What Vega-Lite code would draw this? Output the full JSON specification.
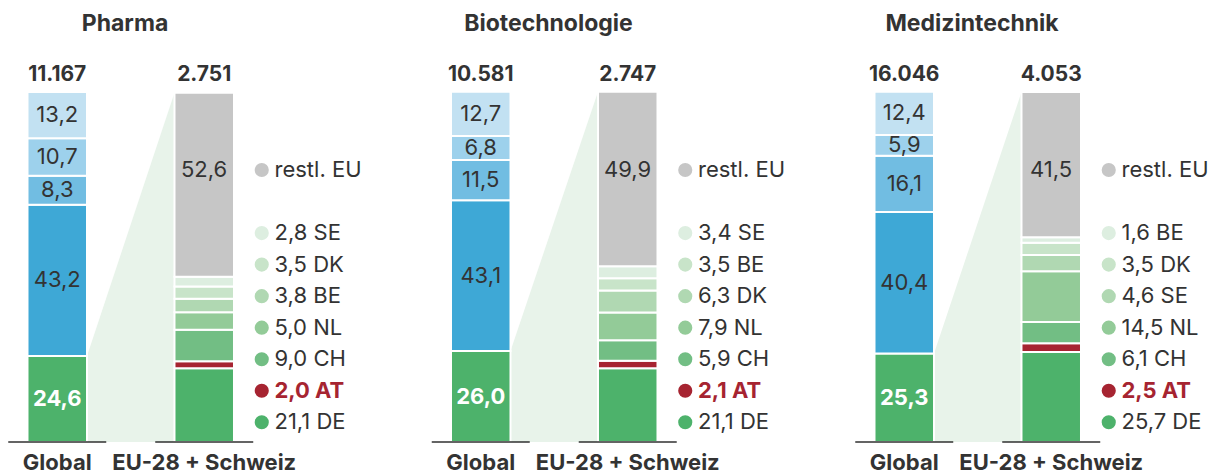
{
  "$schema": "https://vega.github.io/schema/vega-lite/v6.json",
  "padding": {"top": 13, "left": 0, "right": 0, "bottom": 0},
  "bounds": "flush",
  "spacing": 173.5,
  "config": {
    "view": {"stroke": null},
    "font": "Inter",
    "title": {"fontSize": 23, "fontWeight": "bold", "color": "#333333", "anchor": "middle", "frame": "group", "baseline": "alphabetic", "offset": 28}
  },
  "datasets": {
    "seg": [
      {"s": "Pharma", "b": "Global", "i": 0, "k": "EU-28 + Schweiz", "v": 24.6},
      {"s": "Pharma", "b": "Global", "i": 1, "k": "", "v": 43.2},
      {"s": "Pharma", "b": "Global", "i": 2, "k": "", "v": 8.3},
      {"s": "Pharma", "b": "Global", "i": 3, "k": "", "v": 10.7},
      {"s": "Pharma", "b": "Global", "i": 4, "k": "", "v": 13.2},
      {"s": "Pharma", "b": "EU-28 + Schweiz", "i": 0, "k": "DE", "v": 21.1},
      {"s": "Pharma", "b": "EU-28 + Schweiz", "i": 1, "k": "AT", "v": 2.0},
      {"s": "Pharma", "b": "EU-28 + Schweiz", "i": 2, "k": "CH", "v": 9.0},
      {"s": "Pharma", "b": "EU-28 + Schweiz", "i": 3, "k": "NL", "v": 5.0},
      {"s": "Pharma", "b": "EU-28 + Schweiz", "i": 4, "k": "BE", "v": 3.8},
      {"s": "Pharma", "b": "EU-28 + Schweiz", "i": 5, "k": "DK", "v": 3.5},
      {"s": "Pharma", "b": "EU-28 + Schweiz", "i": 6, "k": "SE", "v": 2.8},
      {"s": "Pharma", "b": "EU-28 + Schweiz", "i": 7, "k": "restl. EU", "v": 52.6},
      {"s": "Biotechnologie", "b": "Global", "i": 0, "k": "EU-28 + Schweiz", "v": 26.0},
      {"s": "Biotechnologie", "b": "Global", "i": 1, "k": "", "v": 43.1},
      {"s": "Biotechnologie", "b": "Global", "i": 2, "k": "", "v": 11.5},
      {"s": "Biotechnologie", "b": "Global", "i": 3, "k": "", "v": 6.8},
      {"s": "Biotechnologie", "b": "Global", "i": 4, "k": "", "v": 12.7},
      {"s": "Biotechnologie", "b": "EU-28 + Schweiz", "i": 0, "k": "DE", "v": 21.1},
      {"s": "Biotechnologie", "b": "EU-28 + Schweiz", "i": 1, "k": "AT", "v": 2.1},
      {"s": "Biotechnologie", "b": "EU-28 + Schweiz", "i": 2, "k": "CH", "v": 5.9},
      {"s": "Biotechnologie", "b": "EU-28 + Schweiz", "i": 3, "k": "NL", "v": 7.9},
      {"s": "Biotechnologie", "b": "EU-28 + Schweiz", "i": 4, "k": "DK", "v": 6.3},
      {"s": "Biotechnologie", "b": "EU-28 + Schweiz", "i": 5, "k": "BE", "v": 3.5},
      {"s": "Biotechnologie", "b": "EU-28 + Schweiz", "i": 6, "k": "SE", "v": 3.4},
      {"s": "Biotechnologie", "b": "EU-28 + Schweiz", "i": 7, "k": "restl. EU", "v": 49.9},
      {"s": "Medizintechnik", "b": "Global", "i": 0, "k": "EU-28 + Schweiz", "v": 25.3},
      {"s": "Medizintechnik", "b": "Global", "i": 1, "k": "", "v": 40.4},
      {"s": "Medizintechnik", "b": "Global", "i": 2, "k": "", "v": 16.1},
      {"s": "Medizintechnik", "b": "Global", "i": 3, "k": "", "v": 5.9},
      {"s": "Medizintechnik", "b": "Global", "i": 4, "k": "", "v": 12.4},
      {"s": "Medizintechnik", "b": "EU-28 + Schweiz", "i": 0, "k": "DE", "v": 25.7},
      {"s": "Medizintechnik", "b": "EU-28 + Schweiz", "i": 1, "k": "AT", "v": 2.5},
      {"s": "Medizintechnik", "b": "EU-28 + Schweiz", "i": 2, "k": "CH", "v": 6.1},
      {"s": "Medizintechnik", "b": "EU-28 + Schweiz", "i": 3, "k": "NL", "v": 14.5},
      {"s": "Medizintechnik", "b": "EU-28 + Schweiz", "i": 4, "k": "SE", "v": 4.6},
      {"s": "Medizintechnik", "b": "EU-28 + Schweiz", "i": 5, "k": "DK", "v": 3.5},
      {"s": "Medizintechnik", "b": "EU-28 + Schweiz", "i": 6, "k": "BE", "v": 1.6},
      {"s": "Medizintechnik", "b": "EU-28 + Schweiz", "i": 7, "k": "restl. EU", "v": 41.5}
    ],
    "tot": [
      {"s": "Pharma", "b": "Global", "n": 11167},
      {"s": "Pharma", "b": "EU-28 + Schweiz", "n": 2751},
      {"s": "Biotechnologie", "b": "Global", "n": 10581},
      {"s": "Biotechnologie", "b": "EU-28 + Schweiz", "n": 2747},
      {"s": "Medizintechnik", "b": "Global", "n": 16046},
      {"s": "Medizintechnik", "b": "EU-28 + Schweiz", "n": 4053}
    ]
  },
  "hconcat": [
    {
      "title": {"text": "Pharma"},
      "width": 250, "height": 350,
      "resolve": {"scale": {"x": "independent", "y": "independent"}},
      "layer": [
        {
          "data": {"name": "seg"},
          "transform": [
            {"filter": "datum.s == 'Pharma' && (datum.b != 'Global' || datum.i == 0)"},
            {"aggregate": [{"op": "sum", "field": "v", "as": "top"}], "groupby": ["b"]}
          ],
          "mark": {"type": "area", "color": "#e8f3ea", "opacity": 1, "interpolate": "linear"},
          "encoding": {
            "x": {"field": "b", "type": "ordinal", "scale": {"type": "point", "domain": ["Global", "EU-28 + Schweiz"], "padding": 0.9286, "align": 0.5354}, "axis": null},
            "y": {"field": "top", "type": "quantitative", "scale": {"domain": [0, 100]}, "axis": null}
          }
        },
        {
          "layer": [
            {
              "data": {"name": "seg"},
              "transform": [
                {"filter": "datum.s == 'Pharma'"},
                {"stack": "v", "groupby": ["b"], "sort": [{"field": "i", "order": "ascending"}], "as": ["y0", "y1"]},
                {"calculate": "(datum.b == 'Global' ? 'G' : 'E') + datum.i", "as": "c"},
                {"calculate": "replace(format(datum.v, '.1f'), '.', ',')", "as": "t"},
                {"calculate": "(datum.y0 + datum.y1) / 2", "as": "ym"}
              ],
              "layer": [
                {
                  "mark": {"type": "bar", "stroke": "white", "strokeWidth": 2},
                  "encoding": {
                    "x": {"field": "b", "type": "nominal", "title": null, "scale": {"domain": ["Global", "EU-28 + Schweiz"], "paddingInner": 0.5952, "paddingOuter": 0.148, "align": 0.632, "round": false}, "axis": {"domain": false, "ticks": false, "grid": false, "labelFontSize": 22, "labelFontWeight": "bold", "labelColor": "#333333", "labelPadding": 10, "labelAngle": 0, "labelOverlap": false, "labelLimit": 400}},
                    "y": {"field": "y1", "type": "quantitative", "scale": {"domain": [0, 100]}, "axis": null},
                    "y2": {"field": "y0"},
                    "color": {"field": "c", "type": "nominal", "legend": null, "scale": {"domain": ["G0", "G1", "G2", "G3", "G4", "E0", "E1", "E2", "E3", "E4", "E5", "E6", "E7"], "range": ["#4db26b", "#3ea8d6", "#71bde2", "#9dd1ec", "#c2e1f2", "#4db26b", "#a62431", "#72be84", "#93cb98", "#b0d8b2", "#c8e4c9", "#ddeee0", "#c6c6c6"]}}
                  }
                },
                {
                  "transform": [{"filter": "datum.b == 'Global' && datum.i > 0"}],
                  "mark": {"type": "text", "fontSize": 22, "color": "#333333", "baseline": "middle"},
                  "encoding": {
                    "x": {"field": "b", "type": "nominal", "title": null},
                    "y": {"field": "ym", "type": "quantitative"},
                    "text": {"field": "t"}
                  }
                },
                {
                  "transform": [{"filter": "datum.b == 'Global' && datum.i == 0"}],
                  "mark": {"type": "text", "fontSize": 22, "fontWeight": "bold", "color": "white", "baseline": "middle"},
                  "encoding": {
                    "x": {"field": "b", "type": "nominal", "title": null},
                    "y": {"field": "ym", "type": "quantitative"},
                    "text": {"field": "t"}
                  }
                }
              ]
            },
            {
              "data": {"name": "tot"},
              "transform": [
                {"filter": "datum.s == 'Pharma'"},
                {"calculate": "replace(format(datum.n, ','), ',', '.')", "as": "nt"}
              ],
              "layer": [
                {
                  "mark": {"type": "text", "fontSize": 21, "fontWeight": "bold", "color": "#333333", "baseline": "alphabetic", "dy": -11},
                  "encoding": {
                    "x": {"field": "b", "type": "nominal", "title": null},
                    "y": {"datum": 100, "type": "quantitative"},
                    "text": {"field": "nt"}
                  }
                },
                {
                  "mark": {"type": "tick", "orient": "horizontal", "size": 98, "thickness": 2, "color": "#222222"},
                  "encoding": {
                    "x": {"field": "b", "type": "nominal", "title": null},
                    "y": {"datum": 0, "type": "quantitative"}
                  }
                }
              ]
            }
          ]
        },
        {
          "data": {"name": "seg"},
          "transform": [
            {"filter": "datum.s == 'Pharma' && datum.b == 'EU-28 + Schweiz'"},
            {"calculate": "'E' + datum.i", "as": "c"},
            {"calculate": "replace(format(datum.v, '.1f'), '.', ',')", "as": "t"},
            {"calculate": "datum.i == 7 ? datum.k : datum.t + ' ' + datum.k", "as": "lt"}
          ],
          "encoding": {
            "x": {"field": "b", "type": "nominal", "title": null, "scale": {"domain": ["Global", "EU-28 + Schweiz"], "paddingInner": 0.5952, "paddingOuter": 0.148, "align": 0.632, "round": false}, "axis": null},
            "y": {"field": "i", "type": "ordinal", "scale": {"type": "point", "domain": [7, -1, 6, 5, 4, 3, 2, 1, 0], "range": [78, 330.3], "padding": 0}, "axis": null}
          },
          "layer": [
            {
              "mark": {"type": "circle", "size": 200, "opacity": 1, "xOffset": 57.75},
              "encoding": {
                "color": {"field": "c", "type": "nominal", "legend": null}
              }
            },
            {
              "transform": [{"filter": "datum.k != 'AT'"}],
              "mark": {"type": "text", "fontSize": 22, "color": "#333333", "align": "left", "baseline": "middle", "xOffset": 70.5},
              "encoding": {"text": {"field": "lt"}}
            },
            {
              "transform": [{"filter": "datum.k == 'AT'"}],
              "mark": {"type": "text", "fontSize": 22, "fontWeight": "bold", "color": "#a62431", "align": "left", "baseline": "middle", "xOffset": 70.5},
              "encoding": {"text": {"field": "lt"}}
            },
            {
              "transform": [{"filter": "datum.i == 7"}],
              "mark": {"type": "text", "fontSize": 22, "color": "#333333", "align": "center", "baseline": "middle"},
              "encoding": {"text": {"field": "t"}}
            }
          ]
        }
      ]
    },
    {
      "title": {"text": "Biotechnologie"},
      "width": 250, "height": 350,
      "resolve": {"scale": {"x": "independent", "y": "independent"}},
      "layer": [
        {
          "data": {"name": "seg"},
          "transform": [
            {"filter": "datum.s == 'Biotechnologie' && (datum.b != 'Global' || datum.i == 0)"},
            {"aggregate": [{"op": "sum", "field": "v", "as": "top"}], "groupby": ["b"]}
          ],
          "mark": {"type": "area", "color": "#e8f3ea", "opacity": 1, "interpolate": "linear"},
          "encoding": {
            "x": {"field": "b", "type": "ordinal", "scale": {"type": "point", "domain": ["Global", "EU-28 + Schweiz"], "padding": 0.9286, "align": 0.5354}, "axis": null},
            "y": {"field": "top", "type": "quantitative", "scale": {"domain": [0, 100]}, "axis": null}
          }
        },
        {
          "layer": [
            {
              "data": {"name": "seg"},
              "transform": [
                {"filter": "datum.s == 'Biotechnologie'"},
                {"stack": "v", "groupby": ["b"], "sort": [{"field": "i", "order": "ascending"}], "as": ["y0", "y1"]},
                {"calculate": "(datum.b == 'Global' ? 'G' : 'E') + datum.i", "as": "c"},
                {"calculate": "replace(format(datum.v, '.1f'), '.', ',')", "as": "t"},
                {"calculate": "(datum.y0 + datum.y1) / 2", "as": "ym"}
              ],
              "layer": [
                {
                  "mark": {"type": "bar", "stroke": "white", "strokeWidth": 2},
                  "encoding": {
                    "x": {"field": "b", "type": "nominal", "title": null, "scale": {"domain": ["Global", "EU-28 + Schweiz"], "paddingInner": 0.5952, "paddingOuter": 0.148, "align": 0.632, "round": false}, "axis": {"domain": false, "ticks": false, "grid": false, "labelFontSize": 22, "labelFontWeight": "bold", "labelColor": "#333333", "labelPadding": 10, "labelAngle": 0, "labelOverlap": false, "labelLimit": 400}},
                    "y": {"field": "y1", "type": "quantitative", "scale": {"domain": [0, 100]}, "axis": null},
                    "y2": {"field": "y0"},
                    "color": {"field": "c", "type": "nominal", "legend": null, "scale": {"domain": ["G0", "G1", "G2", "G3", "G4", "E0", "E1", "E2", "E3", "E4", "E5", "E6", "E7"], "range": ["#4db26b", "#3ea8d6", "#71bde2", "#9dd1ec", "#c2e1f2", "#4db26b", "#a62431", "#72be84", "#93cb98", "#b0d8b2", "#c8e4c9", "#ddeee0", "#c6c6c6"]}}
                  }
                },
                {
                  "transform": [{"filter": "datum.b == 'Global' && datum.i > 0"}],
                  "mark": {"type": "text", "fontSize": 22, "color": "#333333", "baseline": "middle"},
                  "encoding": {
                    "x": {"field": "b", "type": "nominal", "title": null},
                    "y": {"field": "ym", "type": "quantitative"},
                    "text": {"field": "t"}
                  }
                },
                {
                  "transform": [{"filter": "datum.b == 'Global' && datum.i == 0"}],
                  "mark": {"type": "text", "fontSize": 22, "fontWeight": "bold", "color": "white", "baseline": "middle"},
                  "encoding": {
                    "x": {"field": "b", "type": "nominal", "title": null},
                    "y": {"field": "ym", "type": "quantitative"},
                    "text": {"field": "t"}
                  }
                }
              ]
            },
            {
              "data": {"name": "tot"},
              "transform": [
                {"filter": "datum.s == 'Biotechnologie'"},
                {"calculate": "replace(format(datum.n, ','), ',', '.')", "as": "nt"}
              ],
              "layer": [
                {
                  "mark": {"type": "text", "fontSize": 21, "fontWeight": "bold", "color": "#333333", "baseline": "alphabetic", "dy": -11},
                  "encoding": {
                    "x": {"field": "b", "type": "nominal", "title": null},
                    "y": {"datum": 100, "type": "quantitative"},
                    "text": {"field": "nt"}
                  }
                },
                {
                  "mark": {"type": "tick", "orient": "horizontal", "size": 98, "thickness": 2, "color": "#222222"},
                  "encoding": {
                    "x": {"field": "b", "type": "nominal", "title": null},
                    "y": {"datum": 0, "type": "quantitative"}
                  }
                }
              ]
            }
          ]
        },
        {
          "data": {"name": "seg"},
          "transform": [
            {"filter": "datum.s == 'Biotechnologie' && datum.b == 'EU-28 + Schweiz'"},
            {"calculate": "'E' + datum.i", "as": "c"},
            {"calculate": "replace(format(datum.v, '.1f'), '.', ',')", "as": "t"},
            {"calculate": "datum.i == 7 ? datum.k : datum.t + ' ' + datum.k", "as": "lt"}
          ],
          "encoding": {
            "x": {"field": "b", "type": "nominal", "title": null, "scale": {"domain": ["Global", "EU-28 + Schweiz"], "paddingInner": 0.5952, "paddingOuter": 0.148, "align": 0.632, "round": false}, "axis": null},
            "y": {"field": "i", "type": "ordinal", "scale": {"type": "point", "domain": [7, -1, 6, 5, 4, 3, 2, 1, 0], "range": [78, 330.3], "padding": 0}, "axis": null}
          },
          "layer": [
            {
              "mark": {"type": "circle", "size": 200, "opacity": 1, "xOffset": 57.75},
              "encoding": {
                "color": {"field": "c", "type": "nominal", "legend": null}
              }
            },
            {
              "transform": [{"filter": "datum.k != 'AT'"}],
              "mark": {"type": "text", "fontSize": 22, "color": "#333333", "align": "left", "baseline": "middle", "xOffset": 70.5},
              "encoding": {"text": {"field": "lt"}}
            },
            {
              "transform": [{"filter": "datum.k == 'AT'"}],
              "mark": {"type": "text", "fontSize": 22, "fontWeight": "bold", "color": "#a62431", "align": "left", "baseline": "middle", "xOffset": 70.5},
              "encoding": {"text": {"field": "lt"}}
            },
            {
              "transform": [{"filter": "datum.i == 7"}],
              "mark": {"type": "text", "fontSize": 22, "color": "#333333", "align": "center", "baseline": "middle"},
              "encoding": {"text": {"field": "t"}}
            }
          ]
        }
      ]
    },
    {
      "title": {"text": "Medizintechnik"},
      "width": 250, "height": 350,
      "resolve": {"scale": {"x": "independent", "y": "independent"}},
      "layer": [
        {
          "data": {"name": "seg"},
          "transform": [
            {"filter": "datum.s == 'Medizintechnik' && (datum.b != 'Global' || datum.i == 0)"},
            {"aggregate": [{"op": "sum", "field": "v", "as": "top"}], "groupby": ["b"]}
          ],
          "mark": {"type": "area", "color": "#e8f3ea", "opacity": 1, "interpolate": "linear"},
          "encoding": {
            "x": {"field": "b", "type": "ordinal", "scale": {"type": "point", "domain": ["Global", "EU-28 + Schweiz"], "padding": 0.9286, "align": 0.5354}, "axis": null},
            "y": {"field": "top", "type": "quantitative", "scale": {"domain": [0, 100]}, "axis": null}
          }
        },
        {
          "layer": [
            {
              "data": {"name": "seg"},
              "transform": [
                {"filter": "datum.s == 'Medizintechnik'"},
                {"stack": "v", "groupby": ["b"], "sort": [{"field": "i", "order": "ascending"}], "as": ["y0", "y1"]},
                {"calculate": "(datum.b == 'Global' ? 'G' : 'E') + datum.i", "as": "c"},
                {"calculate": "replace(format(datum.v, '.1f'), '.', ',')", "as": "t"},
                {"calculate": "(datum.y0 + datum.y1) / 2", "as": "ym"}
              ],
              "layer": [
                {
                  "mark": {"type": "bar", "stroke": "white", "strokeWidth": 2},
                  "encoding": {
                    "x": {"field": "b", "type": "nominal", "title": null, "scale": {"domain": ["Global", "EU-28 + Schweiz"], "paddingInner": 0.5952, "paddingOuter": 0.148, "align": 0.632, "round": false}, "axis": {"domain": false, "ticks": false, "grid": false, "labelFontSize": 22, "labelFontWeight": "bold", "labelColor": "#333333", "labelPadding": 10, "labelAngle": 0, "labelOverlap": false, "labelLimit": 400}},
                    "y": {"field": "y1", "type": "quantitative", "scale": {"domain": [0, 100]}, "axis": null},
                    "y2": {"field": "y0"},
                    "color": {"field": "c", "type": "nominal", "legend": null, "scale": {"domain": ["G0", "G1", "G2", "G3", "G4", "E0", "E1", "E2", "E3", "E4", "E5", "E6", "E7"], "range": ["#4db26b", "#3ea8d6", "#71bde2", "#9dd1ec", "#c2e1f2", "#4db26b", "#a62431", "#72be84", "#93cb98", "#b0d8b2", "#c8e4c9", "#ddeee0", "#c6c6c6"]}}
                  }
                },
                {
                  "transform": [{"filter": "datum.b == 'Global' && datum.i > 0"}],
                  "mark": {"type": "text", "fontSize": 22, "color": "#333333", "baseline": "middle"},
                  "encoding": {
                    "x": {"field": "b", "type": "nominal", "title": null},
                    "y": {"field": "ym", "type": "quantitative"},
                    "text": {"field": "t"}
                  }
                },
                {
                  "transform": [{"filter": "datum.b == 'Global' && datum.i == 0"}],
                  "mark": {"type": "text", "fontSize": 22, "fontWeight": "bold", "color": "white", "baseline": "middle"},
                  "encoding": {
                    "x": {"field": "b", "type": "nominal", "title": null},
                    "y": {"field": "ym", "type": "quantitative"},
                    "text": {"field": "t"}
                  }
                }
              ]
            },
            {
              "data": {"name": "tot"},
              "transform": [
                {"filter": "datum.s == 'Medizintechnik'"},
                {"calculate": "replace(format(datum.n, ','), ',', '.')", "as": "nt"}
              ],
              "layer": [
                {
                  "mark": {"type": "text", "fontSize": 21, "fontWeight": "bold", "color": "#333333", "baseline": "alphabetic", "dy": -11},
                  "encoding": {
                    "x": {"field": "b", "type": "nominal", "title": null},
                    "y": {"datum": 100, "type": "quantitative"},
                    "text": {"field": "nt"}
                  }
                },
                {
                  "mark": {"type": "tick", "orient": "horizontal", "size": 98, "thickness": 2, "color": "#222222"},
                  "encoding": {
                    "x": {"field": "b", "type": "nominal", "title": null},
                    "y": {"datum": 0, "type": "quantitative"}
                  }
                }
              ]
            }
          ]
        },
        {
          "data": {"name": "seg"},
          "transform": [
            {"filter": "datum.s == 'Medizintechnik' && datum.b == 'EU-28 + Schweiz'"},
            {"calculate": "'E' + datum.i", "as": "c"},
            {"calculate": "replace(format(datum.v, '.1f'), '.', ',')", "as": "t"},
            {"calculate": "datum.i == 7 ? datum.k : datum.t + ' ' + datum.k", "as": "lt"}
          ],
          "encoding": {
            "x": {"field": "b", "type": "nominal", "title": null, "scale": {"domain": ["Global", "EU-28 + Schweiz"], "paddingInner": 0.5952, "paddingOuter": 0.148, "align": 0.632, "round": false}, "axis": null},
            "y": {"field": "i", "type": "ordinal", "scale": {"type": "point", "domain": [7, -1, 6, 5, 4, 3, 2, 1, 0], "range": [78, 330.3], "padding": 0}, "axis": null}
          },
          "layer": [
            {
              "mark": {"type": "circle", "size": 200, "opacity": 1, "xOffset": 57.75},
              "encoding": {
                "color": {"field": "c", "type": "nominal", "legend": null}
              }
            },
            {
              "transform": [{"filter": "datum.k != 'AT'"}],
              "mark": {"type": "text", "fontSize": 22, "color": "#333333", "align": "left", "baseline": "middle", "xOffset": 70.5},
              "encoding": {"text": {"field": "lt"}}
            },
            {
              "transform": [{"filter": "datum.k == 'AT'"}],
              "mark": {"type": "text", "fontSize": 22, "fontWeight": "bold", "color": "#a62431", "align": "left", "baseline": "middle", "xOffset": 70.5},
              "encoding": {"text": {"field": "lt"}}
            },
            {
              "transform": [{"filter": "datum.i == 7"}],
              "mark": {"type": "text", "fontSize": 22, "color": "#333333", "align": "center", "baseline": "middle"},
              "encoding": {"text": {"field": "t"}}
            }
          ]
        }
      ]
    }
  ]
}
